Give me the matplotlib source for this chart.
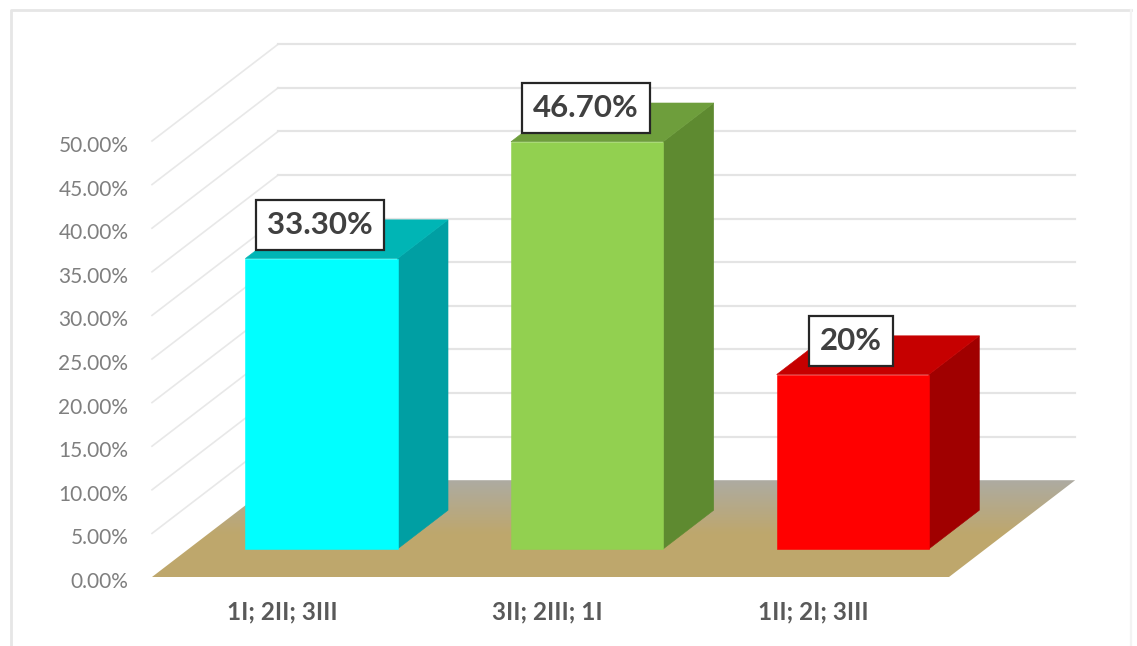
import numpy as np
import matplotlib
matplotlib.use("Agg")
import matplotlib.pyplot as plt
from matplotlib.lines import Line2D
from matplotlib.patches import Polygon
from matplotlib.colors import LinearSegmentedColormap
from matplotlib.transforms import ScaledTranslation

categories = ["1I; 2II; 3III", "3II; 2III; 1I", "1II; 2I; 3III"]
values = [33.3, 46.7, 20.0]
value_labels = ["33.30%", "46.70%", "20%"]
y_ticks = [0, 5, 10, 15, 20, 25, 30, 35, 40, 45, 50]
y_tick_labels = ["0.00%", "5.00%", "10.00%", "15.00%", "20.00%", "25.00%",
                 "30.00%", "35.00%", "40.00%", "45.00%", "50.00%"]
front_colors = ["#00FFFF", "#92D050", "#FF0000"]
side_colors = ["#009FA3", "#5E8A30", "#A00000"]
top_colors = ["#00B5B5", "#6E9E3C", "#C60000"]

W, H = 1137, 646
fig = plt.figure(figsize=(W / 100, H / 100), dpi=100, facecolor="white")
ax = fig.add_axes([152 / W, 1 - 577 / H, 797 / W, 436 / H])
ax.patch.set_visible(False)

# oblique projection of the depth axis, in data units
DX, DY = 0.475, 11.1
BAR_W, D0, D1 = 0.573, 0.29, 0.69


def proj(x, y, d):
    return (x + d * DX, y + d * DY)


XL, XR = -0.5, 2.5

# chart frame: left and top are stronger than the faint right edge
fx = lambda px: px / W
fy = lambda px: 1 - px / H
fig.add_artist(Line2D([fx(10.5), fx(10.5), fx(1131)], [0, fy(9.5), fy(9.5)],
                      color="#E6E6E6", lw=2, transform=fig.transFigure))
fig.add_artist(Line2D([fx(1131), fx(1131)], [fy(9.5), 0],
                      color="#F3F3F3", lw=1.6, transform=fig.transFigure))

# gridlines: side wall and back wall
for t in y_ticks[1:]:
    p0, p1 = proj(XL, t, 0), proj(XL, t, 1)
    p2 = proj(XR, t, 1)
    ax.plot([p0[0], p1[0]], [p0[1], p1[1]], color="#E8E8E8", lw=1.2,
            clip_on=False, zorder=1)
    ax.plot([p1[0], p2[0]], [p1[1], p2[1]], color="#E4E4E4", lw=1.6,
            clip_on=False, zorder=1)

# floor with a back-to-front gradient
floor_pts = [proj(XL, 0, 0), proj(XR, 0, 0), proj(XR, 0, 1), proj(XL, 0, 1)]
floor = Polygon(floor_pts, closed=True, fc="none", ec="none", transform=ax.transData)
ax.add_patch(floor)
floor.set_clip_on(False)
cmap = LinearSegmentedColormap.from_list(
    "floor", [(0, "#BFA86C"), (0.45, "#BEA76D"), (1, "#ADABA2")])
im = ax.imshow(np.linspace(1, 0, 128).reshape(-1, 1), cmap=cmap, aspect="auto",
               extent=[XL, XR + DX, 0, DY], zorder=2, interpolation="bilinear")
im.set_clip_path(floor)
im.set_clip_box(fig.bbox)

# bars
for i, v in enumerate(values):
    x0, x1 = i - BAR_W / 2, i + BAR_W / 2
    front = [proj(x0, 0, D0), proj(x1, 0, D0), proj(x1, v, D0), proj(x0, v, D0)]
    side = [proj(x1, 0, D0), proj(x1, 0, D1), proj(x1, v, D1), proj(x1, v, D0)]
    top = [proj(x0, v, D0), proj(x1, v, D0), proj(x1, v, D1), proj(x0, v, D1)]
    for pts, c in ((side, side_colors[i]), (top, top_colors[i]), (front, front_colors[i])):
        ax.add_patch(Polygon(pts, closed=True, fc=c, ec=c, lw=0.4, clip_on=False, zorder=3))
    ax.annotate(value_labels[i], xy=proj(i, v, D0), xytext=(-1, 24), textcoords="offset points",
                ha="center", va="center", fontsize=22.5, fontweight="bold", family="Lato",
                color="#404040", zorder=5, annotation_clip=False,
                bbox=dict(boxstyle="square,pad=0.35", fc="white", ec="#262626", lw=1.6))

# axes
ax.set_xlim(XL, XR)
ax.set_ylim(0, 50)
ax.set_yticks(y_ticks, y_tick_labels, fontsize=15, color="#7F7F7F", family="Lato")
ax.set_xticks(range(3), categories, fontsize=17.5, fontweight="bold", color="#595959", family="Lato")
ax.tick_params(axis="y", length=0, pad=17)
ax.tick_params(axis="x", length=0, pad=17)
for lab in ax.get_yticklabels():
    lab.set_transform(lab.get_transform() + ScaledTranslation(0, -3 / 100, fig.dpi_scale_trans))
for lab in ax.get_xticklabels():
    lab.set_transform(lab.get_transform() + ScaledTranslation(-3 / 100, 0, fig.dpi_scale_trans))
for s in ax.spines.values():
    s.set_visible(False)

fig.savefig("out.png", dpi=100, facecolor="white")
